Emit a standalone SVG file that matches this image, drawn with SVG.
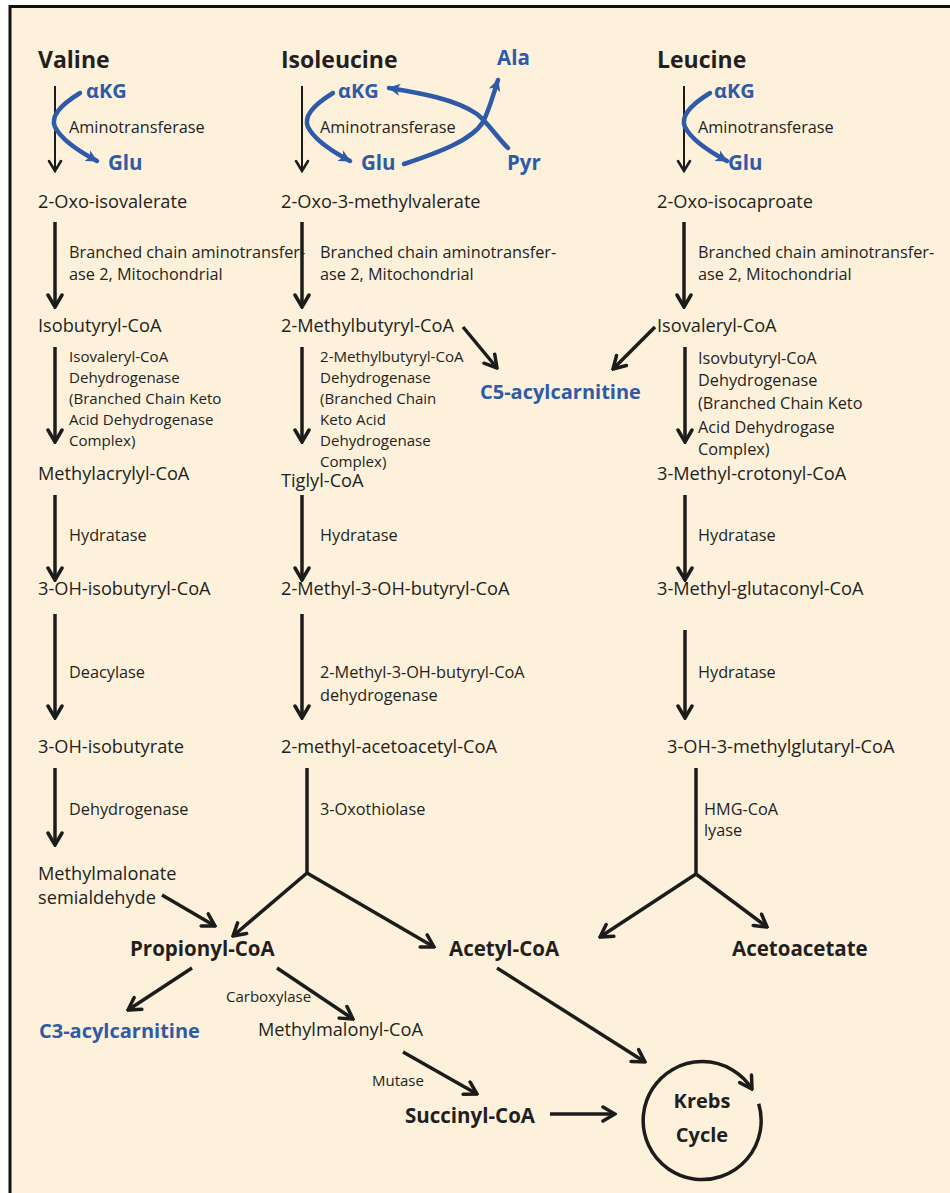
<svg xmlns="http://www.w3.org/2000/svg" width="950" height="1193" viewBox="0 0 950 1193">
<defs>
<style>
text{font-family:"Open Sans","Liberation Sans",sans-serif;fill:#231f20}
.t{font-size:23px;font-weight:bold}
.m{font-size:18.2px}
.e{font-size:16.3px}
.s{font-size:15.1px}
.x{font-size:15px}
.b{font-size:20.5px;font-weight:bold}
.bk{font-size:20px;font-weight:bold}
.bl{fill:#2f5aa8;font-weight:bold}
.ln{stroke:#1c1c1c;stroke-width:3.5;fill:none}
.thin{stroke:#1c1c1c;stroke-width:2;fill:none}
.blue{stroke:#2f5aa8;stroke-width:4.5;fill:none;stroke-linecap:round}
</style>
<marker id="ah" markerUnits="userSpaceOnUse" viewBox="0 0 16 18" refX="14" refY="9" markerWidth="16" markerHeight="18" orient="auto">
<path d="M2,2 L14,9 L2,16" fill="none" stroke="#1c1c1c" stroke-width="3.5" stroke-linecap="round"/>
</marker>
<marker id="aht" markerUnits="userSpaceOnUse" viewBox="0 0 14 16" refX="12" refY="8" markerWidth="14" markerHeight="16" orient="auto">
<path d="M2,2 L12,8 L2,14" fill="none" stroke="#1c1c1c" stroke-width="2.5" stroke-linecap="round"/>
</marker>
<marker id="ahb" markerUnits="userSpaceOnUse" viewBox="0 0 14 14" refX="12" refY="7" markerWidth="14" markerHeight="14" orient="auto">
<path d="M1,1 L13,7 L1,13 L4,7 Z" fill="#2f5aa8"/>
</marker>
</defs>
<rect x="0" y="0" width="950" height="1193" fill="#ffffff"/>
<rect x="10" y="6.5" width="960" height="1200" fill="#fdf1dc" stroke="#111" stroke-width="3"/>

<g id="connectors">
<line class="thin" x1="55" y1="86" x2="55" y2="171" marker-end="url(#aht)"/>
<line class="thin" x1="302" y1="86" x2="302" y2="171" marker-end="url(#aht)"/>
<line class="thin" x1="684" y1="86" x2="684" y2="171" marker-end="url(#aht)"/>
<path class="blue" d="M80,93 C62,104 50,116 55,127 C62,141 82,153 97,161" marker-end="url(#ahb)"/>
<path class="blue" d="M333,93 C315,104 303,116 308,127 C315,141 335,153 350,161" marker-end="url(#ahb)"/>
<path class="blue" d="M710,93 C692,104 680,116 685,127 C692,141 712,153 727,161" marker-end="url(#ahb)"/>
<path class="blue" d="M404,164 C440,152 472,140 483,122 C490,108 493,95 498,80" marker-end="url(#ahb)"/>
<path class="blue" d="M508,148 C496,136 489,124 477,114 C455,99 420,93 389,88" marker-end="url(#ahb)"/>
<line class="ln" x1="55" y1="222" x2="55" y2="307" marker-end="url(#ah)"/>
<line class="ln" x1="302" y1="222" x2="302" y2="307" marker-end="url(#ah)"/>
<line class="ln" x1="684" y1="222" x2="684" y2="307" marker-end="url(#ah)"/>
<line class="ln" x1="55" y1="347" x2="55" y2="442" marker-end="url(#ah)"/>
<line class="ln" x1="302" y1="347" x2="302" y2="442" marker-end="url(#ah)"/>
<line class="ln" x1="685" y1="347" x2="685" y2="442" marker-end="url(#ah)"/>
<line class="ln" x1="463" y1="327" x2="497" y2="368" marker-end="url(#ah)"/>
<line class="ln" x1="655" y1="327" x2="613" y2="369" marker-end="url(#ah)"/>
<line class="ln" x1="55" y1="495" x2="55" y2="580" marker-end="url(#ah)"/>
<line class="ln" x1="302" y1="495" x2="302" y2="580" marker-end="url(#ah)"/>
<line class="ln" x1="685" y1="495" x2="685" y2="580" marker-end="url(#ah)"/>
<line class="ln" x1="55" y1="614" x2="55" y2="718" marker-end="url(#ah)"/>
<line class="ln" x1="302" y1="614" x2="302" y2="718" marker-end="url(#ah)"/>
<line class="ln" x1="685" y1="630" x2="685" y2="718" marker-end="url(#ah)"/>
<line class="ln" x1="55" y1="768" x2="55" y2="845" marker-end="url(#ah)"/>
<path class="ln" d="M307,768 L307,873"/>
<line class="ln" x1="307" y1="873" x2="233" y2="936" marker-end="url(#ah)"/>
<line class="ln" x1="307" y1="873" x2="434" y2="947" marker-end="url(#ah)"/>
<path class="ln" d="M696,768 L696,874"/>
<line class="ln" x1="696" y1="874" x2="600" y2="937" marker-end="url(#ah)"/>
<line class="ln" x1="696" y1="874" x2="767" y2="927" marker-end="url(#ah)"/>
<line class="ln" x1="162" y1="895" x2="215" y2="926" marker-end="url(#ah)"/>
<line class="ln" x1="192" y1="968" x2="128" y2="1010" marker-end="url(#ah)"/>
<line class="ln" x1="277" y1="968" x2="353" y2="1019" marker-end="url(#ah)"/>
<line class="ln" x1="403" y1="1052" x2="477" y2="1094" marker-end="url(#ah)"/>
<line class="ln" x1="550" y1="1114" x2="615" y2="1114" marker-end="url(#ah)"/>
<line class="ln" x1="497" y1="968" x2="645" y2="1062" marker-end="url(#ah)"/>
<path class="ln" d="M758.7,1103.7 A59,59 0 1 1 752,1089" marker-end="url(#ah)"/>
</g>

<g id="valine">
<text class="t" x="38" y="68">Valine</text>
<text class="bl" x="86" y="98" style="font-size:20px">αKG</text>
<text class="e" x="69" y="133">Aminotransferase</text>
<text class="bl" x="108" y="170" style="font-size:20.5px">Glu</text>
<text class="m" x="38" y="208">2-Oxo-isovalerate</text>
<text class="e" x="69" y="258">Branched chain aminotransfer-</text>
<text class="e" x="69" y="280">ase 2, Mitochondrial</text>
<text class="m" x="38" y="332">Isobutyryl-CoA</text>
<text class="s"><tspan x="69" y="362">Isovaleryl-CoA</tspan><tspan x="69" y="383">Dehydrogenase</tspan><tspan x="69" y="404">(Branched Chain Keto</tspan><tspan x="69" y="425">Acid Dehydrogenase</tspan><tspan x="69" y="446">Complex)</tspan></text>
<text class="m" x="38" y="480">Methylacrylyl-CoA</text>
<text class="e" x="69" y="541">Hydratase</text>
<text class="m" x="38" y="595">3-OH-isobutyryl-CoA</text>
<text class="e" x="69" y="678">Deacylase</text>
<text class="m" x="38" y="753">3-OH-isobutyrate</text>
<text class="e" x="69" y="815">Dehydrogenase</text>
<text class="m"><tspan x="38" y="880">Methylmalonate</tspan><tspan x="38" y="904">semialdehyde</tspan></text>
</g>

<g id="isoleucine">
<text class="t" x="281" y="68">Isoleucine</text>
<text class="bl" x="338" y="98" style="font-size:20px">αKG</text>
<text class="e" x="320" y="133">Aminotransferase</text>
<text class="bl" x="361" y="170" style="font-size:20.5px">Glu</text>
<text class="bl" x="497" y="65" style="font-size:20.5px">Ala</text>
<text class="bl" x="507" y="170" style="font-size:20.5px">Pyr</text>
<text class="m" x="281" y="208">2-Oxo-3-methylvalerate</text>
<text class="e" x="320" y="258">Branched chain aminotransfer-</text>
<text class="e" x="320" y="280">ase 2, Mitochondrial</text>
<text class="m" x="281" y="332">2-Methylbutyryl-CoA</text>
<text class="s"><tspan x="320" y="362">2-Methylbutyryl-CoA</tspan><tspan x="320" y="383">Dehydrogenase</tspan><tspan x="320" y="404">(Branched Chain</tspan><tspan x="320" y="425">Keto Acid</tspan><tspan x="320" y="446">Dehydrogenase</tspan><tspan x="320" y="467">Complex)</tspan></text>
<text class="m" x="281" y="487">Tiglyl-CoA</text>
<text class="e" x="320" y="541">Hydratase</text>
<text class="m" x="281" y="595">2-Methyl-3-OH-butyryl-CoA</text>
<text class="e"><tspan x="320" y="678">2-Methyl-3-OH-butyryl-CoA</tspan><tspan x="320" y="701">dehydrogenase</tspan></text>
<text class="m" x="281" y="753">2-methyl-acetoacetyl-CoA</text>
<text class="e" x="320" y="815">3-Oxothiolase</text>
</g>

<g id="leucine">
<text class="t" x="657" y="68">Leucine</text>
<text class="bl" x="714" y="98" style="font-size:20px">αKG</text>
<text class="e" x="698" y="133">Aminotransferase</text>
<text class="bl" x="728" y="170" style="font-size:20.5px">Glu</text>
<text class="m" x="657" y="208">2-Oxo-isocaproate</text>
<text class="e" x="698" y="258">Branched chain aminotransfer-</text>
<text class="e" x="698" y="280">ase 2, Mitochondrial</text>
<text class="m" x="657" y="332">Isovaleryl-CoA</text>
<text class="e"><tspan x="698" y="364">Isovbutyryl-CoA</tspan><tspan x="698" y="386">Dehydrogenase</tspan><tspan x="698" y="409">(Branched Chain Keto</tspan><tspan x="698" y="433">Acid Dehydrogase</tspan><tspan x="698" y="455">Complex)</tspan></text>
<text class="m" x="657" y="480">3-Methyl-crotonyl-CoA</text>
<text class="e" x="698" y="541">Hydratase</text>
<text class="m" x="657" y="595">3-Methyl-glutaconyl-CoA</text>
<text class="e" x="698" y="678">Hydratase</text>
<text class="m" x="667" y="753">3-OH-3-methylglutaryl-CoA</text>
<text class="e"><tspan x="704" y="815">HMG-CoA</tspan><tspan x="704" y="836">lyase</tspan></text>
</g>

<g id="c5"><text class="bk bl" x="480" y="399">C5-acylcarnitine</text></g>
<g id="propionyl"><text class="b" x="130" y="956">Propionyl-CoA</text></g>
<g id="acetyl"><text class="b" x="449" y="956">Acetyl-CoA</text></g>
<g id="acetoacetate"><text class="b" x="732" y="956">Acetoacetate</text></g>
<g id="c3"><text class="bk bl" x="39" y="1038">C3-acylcarnitine</text></g>
<g id="carboxylase"><text class="x" x="226" y="1002">Carboxylase</text></g>
<g id="methylmalonyl"><text class="m" x="258" y="1036">Methylmalonyl-CoA</text></g>
<g id="mutase"><text class="x" x="372" y="1086">Mutase</text></g>
<g id="succinyl"><text class="b" x="405" y="1123">Succinyl-CoA</text></g>
<g id="krebs"><text class="bk" text-anchor="middle"><tspan x="702" y="1108">Krebs</tspan><tspan x="702" y="1142">Cycle</tspan></text></g>
</svg>
